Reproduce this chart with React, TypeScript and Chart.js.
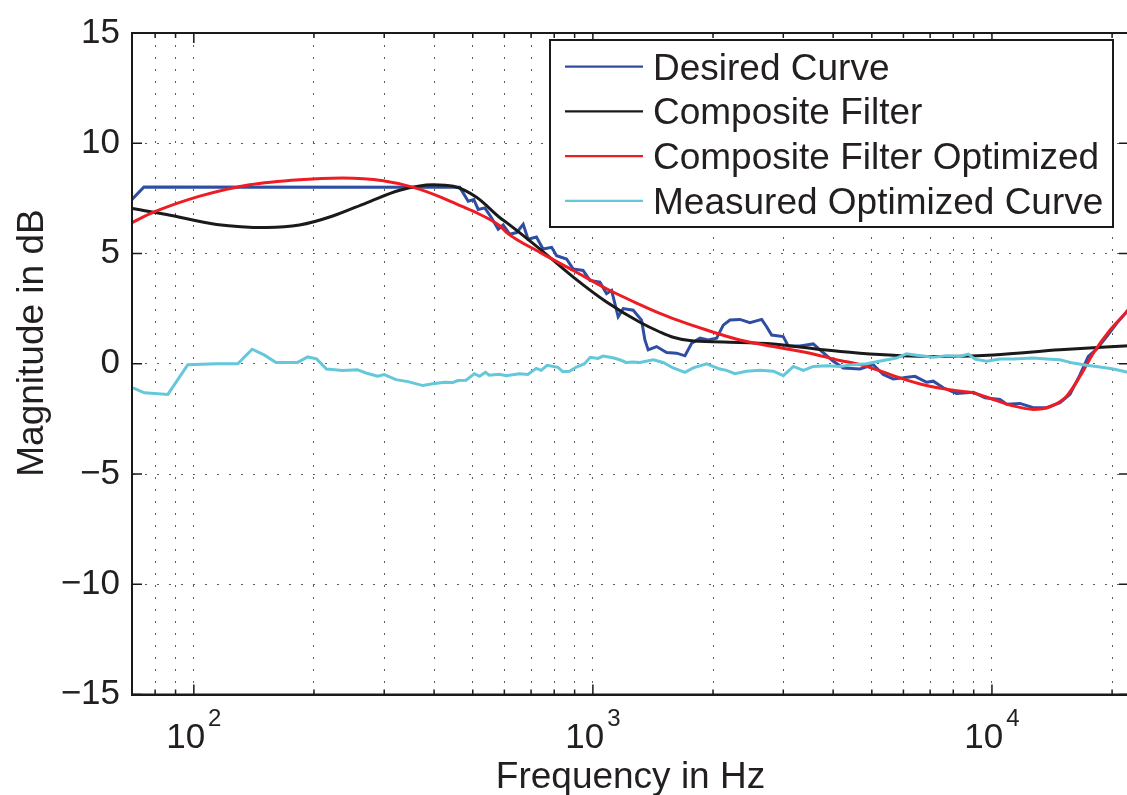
import React, { useEffect, useRef } from 'react';
import { Chart, registerables } from 'chart.js';

Chart.register(...registerables);

const FONT = '"Liberation Sans", Arial, Helvetica, sans-serif';
const TEXT = '#231f20';
const AXIS = '#1a1a1a';
const GRID = 'rgba(40,40,40,0.75)';

// ---- data (frequency in Hz, magnitude in dB) ----
const desiredFreq = [70, 75, 464, 487, 503, 516, 536, 557, 579, 596, 619, 644, 669, 688, 722, 750, 788, 811, 859, 892, 945, 983, 1041, 1082, 1114, 1157, 1191, 1262, 1324, 1350, 1376, 1444, 1530, 1621, 1701, 1768, 1855, 1945, 2042, 2122, 2205, 2336, 2475, 2648, 2725, 2805, 2999, 3087, 3303, 3566, 3707, 4004, 4240, 4670, 5041, 5341, 5656, 5995, 6413, 6862, 7128, 7550, 8155, 8977, 9605, 10471, 10886, 11755, 12691, 13714, 14806, 15687, 16622, 17433, 18297, 19387, 20535, 21757, 22050];
const desiredDb = [7.45, 8.02, 8.0, 7.37, 7.45, 7.0, 7.07, 6.62, 6.10, 6.29, 5.87, 5.95, 6.32, 5.65, 5.75, 5.20, 5.28, 4.90, 4.75, 4.30, 4.23, 3.78, 3.70, 3.18, 3.33, 2.13, 2.50, 2.43, 1.98, 1.08, 0.63, 0.78, 0.51, 0.48, 0.36, 0.93, 1.16, 1.08, 1.16, 1.75, 1.98, 2.01, 1.86, 2.01, 1.68, 1.30, 1.23, 0.81, 0.81, 0.90, 0.63, 0.11, -0.19, -0.24, -0.04, -0.49, -0.69, -0.64, -0.57, -0.84, -0.79, -1.09, -1.35, -1.29, -1.54, -1.62, -1.84, -1.80, -1.99, -1.99, -1.77, -1.39, -0.49, 0.33, 0.66, 1.23, 1.83, 2.36, 2.48];

const compositeFreq = [70, 85.4, 114, 152, 184, 223, 271, 328, 398, 447, 511, 585, 608, 737, 893, 1082, 1312, 1472, 1589, 1749, 2123, 2833, 3776, 4670, 5240, 6860, 10080, 14800, 22050];
const compositeDb = [7.04, 6.77, 6.32, 6.18, 6.29, 6.70, 7.30, 7.87, 8.12, 8.05, 7.55, 6.62, 6.40, 5.20, 3.93, 2.80, 1.88, 1.44, 1.20, 1.05, 0.99, 0.90, 0.63, 0.48, 0.42, 0.33, 0.40, 0.63, 0.82];

const optimizedFreq = [70, 79, 103.5, 138, 184, 236, 298, 355, 414, 438, 501, 585, 608, 737, 893, 1082, 1312, 1472, 1589, 1927, 2335, 2833, 3428, 4160, 4670, 5240, 5874, 6860, 8000, 8980, 10080, 11310, 12690, 13970, 15380, 16620, 17950, 19770, 21750, 22050];
const optimizedDb = [6.40, 6.86, 7.60, 8.12, 8.35, 8.42, 8.30, 8.00, 7.57, 7.37, 6.92, 6.25, 5.95, 5.05, 4.23, 3.40, 2.68, 2.28, 2.05, 1.53, 1.08, 0.78, 0.51, 0.15, -0.04, -0.32, -0.64, -0.99, -1.20, -1.32, -1.62, -1.91, -2.07, -1.95, -1.47, -0.57, 0.48, 1.53, 2.36, 2.50];

const measuredFreq = [70.4, 75.2, 86.1, 96.6, 113.7, 128.9, 140, 150, 160.7, 182, 193, 203, 215, 236, 257, 270, 289, 300, 321, 344, 375, 397, 425, 446, 459, 481, 505, 520, 538, 550, 583, 606, 655, 687, 721, 742, 768, 817, 841, 874, 909, 953, 985, 1030, 1060, 1123, 1167, 1212, 1260, 1312, 1417, 1500, 1589, 1701, 1784, 1927, 2081, 2162, 2268, 2426, 2622, 2833, 3001, 3180, 3369, 3568, 3853, 4160, 4490, 4850, 5340, 5765, 6107, 6600, 7130, 7700, 8320, 8725, 9070, 9700, 10480, 11310, 12690, 13710, 14800, 15990, 17260, 18650, 20140, 22050];
const measuredDb = [-1.09, -1.32, -1.39, -0.04, 0, 0, 0.66, 0.40, 0.06, 0.06, 0.31, 0.22, -0.24, -0.31, -0.27, -0.42, -0.57, -0.49, -0.72, -0.81, -0.99, -0.91, -0.84, -0.85, -0.76, -0.75, -0.45, -0.57, -0.39, -0.52, -0.48, -0.54, -0.45, -0.49, -0.21, -0.30, -0.07, -0.16, -0.36, -0.34, -0.15, 0, 0.29, 0.24, 0.35, 0.27, 0.18, 0.06, 0.08, 0.06, 0.18, 0.06, -0.19, -0.39, -0.19, 0, -0.24, -0.30, -0.45, -0.34, -0.30, -0.34, -0.54, -0.12, -0.30, -0.12, -0.09, -0.12, -0.04, 0, 0.15, 0.26, 0.45, 0.36, 0.29, 0.36, 0.33, 0.44, 0.21, 0.11, 0.21, 0.21, 0.26, 0.22, 0.18, 0.03, -0.07, -0.15, -0.24, -0.40];

const legendLabels = ['Desired Curve', 'Composite Filter', 'Composite Filter Optimized', 'Measured Optimized Curve'];
const seriesColors = ['#2f4ea3', '#1a1a1a', '#ee1d24', '#64c8da'];

const xGridValues = [80, 90, 100, 200, 300, 400, 500, 600, 700, 800, 900, 1000, 2000, 3000, 4000, 5000, 6000, 7000, 8000, 9000, 10000, 20000];
const xLabelExponents = [2, 3, 4];
const yTickValues = [-15, -10, -5, 0, 5, 10, 15];
const xTitle = 'Frequency in Hz';
const yTitle = 'Magnitude in dB';

const toPoints = (f: number[], d: number[]) => f.map((x, i) => ({ x, y: d[i] }));

const decorPlugin = {
  id: 'decor',
  afterDraw(chart: any) {
    const { ctx, chartArea: a } = chart;
    const xs = chart.scales.x;
    const ys = chart.scales.y;
    ctx.save();
    // inward tick marks
    ctx.strokeStyle = AXIS;
    ctx.lineWidth = 1.5;
    ctx.beginPath();
    xGridValues.forEach((v) => {
      const px = xs.getPixelForValue(v);
      const lg = Math.log10(v);
      const major = Math.abs(lg - Math.round(lg)) < 1e-9;
      const len = major ? 10 : 5;
      ctx.moveTo(px, a.bottom);
      ctx.lineTo(px, a.bottom - len);
      ctx.moveTo(px, a.top);
      ctx.lineTo(px, a.top + len);
    });
    yTickValues.forEach((v) => {
      const py = ys.getPixelForValue(v);
      ctx.moveTo(a.left, py);
      ctx.lineTo(a.left + 10, py);
      ctx.moveTo(a.right, py);
      ctx.lineTo(a.right - 10, py);
    });
    ctx.stroke();
    // axes box
    ctx.lineWidth = 2;
    ctx.strokeRect(a.left, a.top, a.right - a.left, a.bottom - a.top);

    // x tick labels 10^n
    ctx.fillStyle = TEXT;
    ctx.textBaseline = 'alphabetic';
    ctx.textAlign = 'left';
    xLabelExponents.forEach((e) => {
      const px = xs.getPixelForValue(Math.pow(10, e));
      ctx.font = `35px ${FONT}`;
      const w1 = ctx.measureText('10').width;
      ctx.font = `24px ${FONT}`;
      const sup = String(e);
      const w2 = ctx.measureText(sup).width;
      const start = px - (w1 + 3 + w2) / 2;
      ctx.font = `35px ${FONT}`;
      ctx.fillText('10', start, 748);
      ctx.font = `24px ${FONT}`;
      ctx.fillText(sup, start + w1 + 3, 726);
    });

    // axis titles
    ctx.font = `37px ${FONT}`;
    ctx.textAlign = 'center';
    ctx.fillText(xTitle, (a.left + a.right) / 2, 788);
    ctx.save();
    ctx.translate(43, 343);
    ctx.rotate(-Math.PI / 2);
    ctx.fillText(yTitle, 0, 0);
    ctx.restore();

    // legend
    const L = { left: 550, top: 40, right: 1113, bottom: 227 };
    ctx.fillStyle = '#ffffff';
    ctx.fillRect(L.left, L.top, L.right - L.left, L.bottom - L.top);
    ctx.strokeStyle = AXIS;
    ctx.lineWidth = 2;
    ctx.strokeRect(L.left, L.top, L.right - L.left, L.bottom - L.top);
    legendLabels.forEach((lab, i) => {
      const y = 66.7 + i * 44.7;
      ctx.strokeStyle = seriesColors[i];
      ctx.lineWidth = 2.3;
      ctx.beginPath();
      ctx.moveTo(565, y);
      ctx.lineTo(643, y);
      ctx.stroke();
      ctx.fillStyle = TEXT;
      ctx.font = `37px ${FONT}`;
      ctx.textAlign = 'left';
      ctx.fillText(lab, 653, y + 13);
    });
    ctx.restore();
  },
};

export default function App() {
  const ref = useRef<HTMLCanvasElement | null>(null);
  useEffect(() => {
    if (!ref.current) return;
    const mk = (i: number, f: number[], d: number[], smooth: boolean, order: number) => ({
      label: legendLabels[i],
      data: toPoints(f, d),
      borderColor: seriesColors[i],
      backgroundColor: seriesColors[i],
      borderWidth: 3,
      pointRadius: 0,
      fill: false,
      order,
      cubicInterpolationMode: smooth ? ('monotone' as const) : ('default' as const),
      tension: smooth ? 0.4 : 0,
    });
    const chart = new Chart(ref.current, {
      type: 'line',
      data: {
        datasets: [
          mk(0, desiredFreq, desiredDb, false, 4),
          mk(1, compositeFreq, compositeDb, true, 3),
          mk(2, optimizedFreq, optimizedDb, true, 2),
          mk(3, measuredFreq, measuredDb, false, 1),
        ],
      },
      options: {
        animation: false,
        responsive: true,
        maintainAspectRatio: false,
        layout: { padding: { top: 27, right: 6, left: 0, bottom: 0 } },
        plugins: { legend: { display: false }, tooltip: { enabled: false } },
        scales: {
          x: {
            type: 'logarithmic',
            min: 70,
            max: 22050,
            afterBuildTicks: (s: any) => {
              s.ticks = xGridValues.map((v) => ({ value: v }));
            },
            afterFit: (s: any) => {
              s.height = 100.5;
            },
            ticks: { display: false },
            grid: { color: GRID, lineWidth: 1, drawTicks: false },
            border: { display: true, color: AXIS, width: 2, dash: [2, 10] },
          },
          y: {
            type: 'linear',
            min: -15,
            max: 15,
            afterBuildTicks: (s: any) => {
              s.ticks = yTickValues.map((v) => ({ value: v }));
            },
            afterFit: (s: any) => {
              s.width = 132;
            },
            ticks: {
              color: TEXT,
              padding: 12,
              font: { family: FONT, size: 35 },
              callback: (v: any) => (Number(v) < 0 ? '\u2212' + Math.abs(Number(v)) : String(v)),
            },
            grid: { color: GRID, lineWidth: 1, drawTicks: false },
            border: { display: true, color: AXIS, width: 2, dash: [2, 10] },
          },
        },
      } as any,
      plugins: [decorPlugin],
    });
    return () => chart.destroy();
  }, []);
  return (
    <div style={{ position: 'absolute', left: 0, top: 0, width: 1127, height: 795, overflow: 'hidden', background: '#ffffff' }}>
      <div style={{ position: 'relative', width: 1135, height: 795 }}>
        <canvas ref={ref} />
      </div>
    </div>
  );
}
